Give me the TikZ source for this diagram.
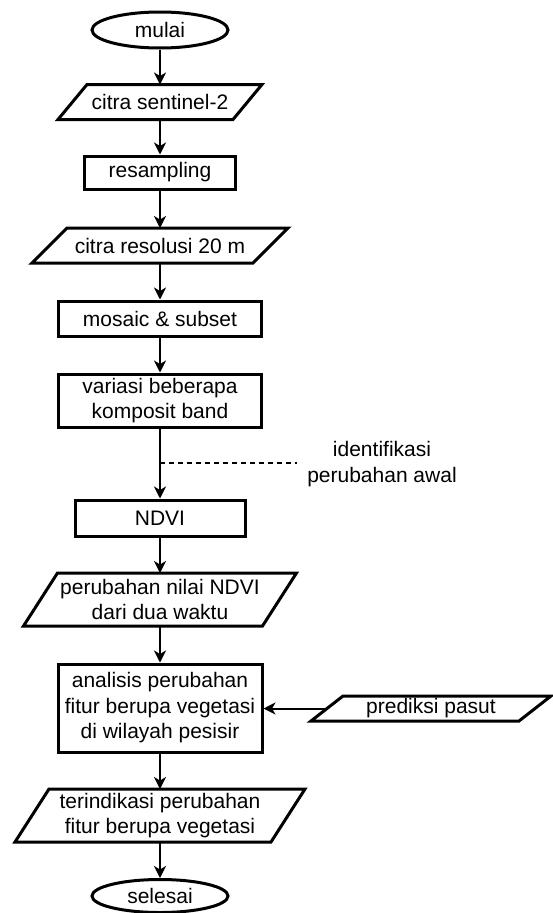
\documentclass[tikz,border=0pt]{standalone}
\usepackage{fontspec}
\setmainfont{Liberation Sans}
\usetikzlibrary{shapes.geometric,arrows.meta}
\tikzset{
  base/.style={font=\fontsize{21}{25.5}\selectfont, align=center, inner sep=0pt},
  terminal/.style={base, ellipse, draw, line width=3pt},
  process/.style={base, rectangle, draw, line width=3pt},
  iotext/.style={base, rectangle, outer sep=0pt},
  conn/.style={line width=2pt, -{Stealth[length=12pt,width=12pt,inset=3.5pt]}},
  iobox/.style={line width=3pt, line join=miter},
  note/.style={base, inner xsep=10pt},
  guide/.style={line width=1.4pt, dash pattern=on 5pt off 4pt},
}
\newcommand{\ioshape}[2]{\draw[iobox] ([xshift=#2]#1.north west) -- ([xshift=#2]#1.north east) -- ([xshift=-#2]#1.south east) -- ([xshift=-#2]#1.south west) -- cycle;}
\begin{document}
\begin{tikzpicture}[x=1pt,y=-1pt]
\useasboundingbox (0,0) rectangle (552,913);

\node[terminal, minimum width=136pt, minimum height=36pt] (mulai) at (160,30) {mulai};
\node[iotext, minimum width=175pt, minimum height=35pt] (sen) at (160,102) {citra sentinel-2};
\ioshape{sen}{14.5}
\node[process, minimum width=151pt, minimum height=33pt] (res) at (160,172.5) {resampling};
\node[iotext, minimum width=221pt, minimum height=35pt] (cr) at (160,245.5) {citra resolusi 20 m};
\ioshape{cr}{17.5}
\node[process, minimum width=203pt, minimum height=35pt] (mos) at (160,318.5) {mosaic \& subset};
\node[process, minimum width=203pt, minimum height=53pt] (var) at (160,400.5) {variasi beberapa\\komposit band};
\node[process, minimum width=170pt, minimum height=36pt] (ndvi) at (160,518) {NDVI};
\node[iotext, minimum width=239pt, minimum height=53pt] (pn) at (160,599.5) {perubahan nilai NDVI\\dari dua waktu};
\ioshape{pn}{17}
\node[process, minimum width=204pt, minimum height=88pt] (an) at (160,708) {analisis perubahan\\fitur berupa vegetasi\\di wilayah pesisir};
\node[iotext, minimum width=208pt, minimum height=25pt] (pred) at (431,708.5) {prediksi pasut};
\ioshape{pred}{16}
\node[iotext, minimum width=256pt, minimum height=53pt] (ter) at (160,815.5) {terindikasi perubahan\\fitur berupa vegetasi};
\ioshape{ter}{17}
\node[terminal, minimum width=136pt, minimum height=33pt] (sel) at (160,896) {selesai};

\node[note] (lbl) at (382,464) {identifikasi\\perubahan awal};
\coordinate (tap) at (160,463);

\draw[conn] (mulai) -- (sen);
\draw[conn] (sen) -- (res);
\draw[conn] (res) -- (cr);
\draw[conn] (cr) -- (mos);
\draw[conn] (mos) -- (var);
\draw[conn] (var) -- (ndvi);
\draw[guide] (tap) -- (tap -| lbl.west);
\draw[conn] (ndvi) -- (pn);
\draw[conn] (pn) -- (an);
\draw[conn] (pred.west) -- (pred.west -| an.east);
\draw[conn] (an) -- (ter);
\draw[conn] (ter) -- (sel);
\end{tikzpicture}
\end{document}
